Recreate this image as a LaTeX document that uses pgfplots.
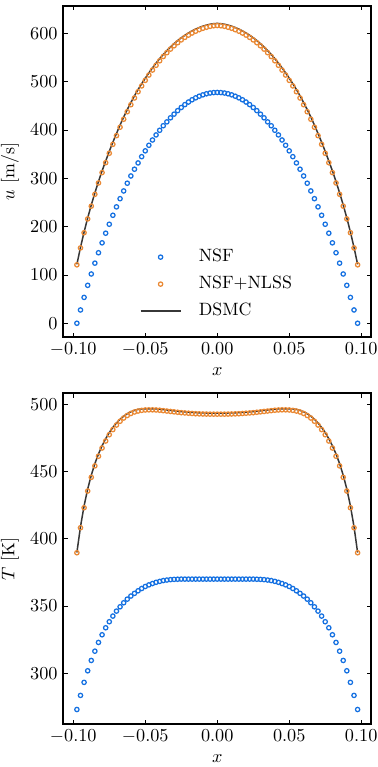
\documentclass[border=0pt]{standalone}
\usepackage{pgfplots}
\usepackage{pgfplotstable}
\pgfplotsset{compat=1.18}
\definecolor{nsfblue}{RGB}{20,112,225}
\definecolor{nlssorange}{RGB}{234,137,52}
\definecolor{dsmcgray}{RGB}{55,55,55}

\pgfplotstableread{
x nsf nlss dsmc
-0.0975 0 121 122
-0.0950 27.5 156 157
-0.0925 53.5 187.5 189
-0.0900 78.5 216 218
-0.0875 102 242.5 245
-0.0850 124.5 267 270
-0.0825 146 290.5 293.5
-0.0800 166.5 312 315.5
-0.0775 186.5 332.5 336
-0.0750 205 352 356
-0.0725 223.6 370.5 375
-0.0700 241 388.5 393
-0.0675 258 406 410.5
-0.0650 274 422.5 427
-0.0625 290 438 442.5
-0.0600 305 452.6 457
-0.0575 319 466.5 471
-0.0550 332 479.5 484
-0.0525 345 491.5 496
-0.0500 357 503 507.5
-0.0475 368.5 514 518.5
-0.0450 379.5 524.3 528.8
-0.0425 390 534.2 538.6
-0.0400 399.6 543.5 548
-0.0375 409 552.3 556.7
-0.0350 417 560.3 564.7
-0.0325 425.4 567.7 572.1
-0.0300 433.1 574.6 579
-0.0275 440.3 581 585.4
-0.0250 446.8 586.8 591.2
-0.0225 452.8 592 596.4
-0.0200 458.1 596.7 601.1
-0.0175 462.8 601 605.4
-0.0150 466.8 604.8 609.2
-0.0125 470.2 608 612.4
-0.0100 473.0 610.8 615.2
-0.0075 475.2 613 617.4
-0.0050 476.8 614.8 619.2
-0.0025 477.7 616 620.4
0.0000 478 616.5 620.9
0.0025 477.7 616 620.4
0.0050 476.8 614.8 619.2
0.0075 475.2 613 617.4
0.0100 473.0 610.8 615.2
0.0125 470.2 608 612.4
0.0150 466.8 604.8 609.2
0.0175 462.8 601 605.4
0.0200 458.1 596.7 601.1
0.0225 452.8 592 596.4
0.0250 446.8 586.8 591.2
0.0275 440.3 581 585.4
0.0300 433.1 574.6 579
0.0325 425.4 567.7 572.1
0.0350 417 560.3 564.7
0.0375 409 552.3 556.7
0.0400 399.6 543.5 548
0.0425 390 534.2 538.6
0.0450 379.5 524.3 528.8
0.0475 368.5 514 518.5
0.0500 357 503 507.5
0.0525 345 491.5 496
0.0550 332 479.5 484
0.0575 319 466.5 471
0.0600 305 452.6 457
0.0625 290 438 442.5
0.0650 274 422.5 427
0.0675 258 406 410.5
0.0700 241 388.5 393
0.0725 223.6 370.5 375
0.0750 205 352 356
0.0775 186.5 332.5 336
0.0800 166.5 312 315.5
0.0825 146 290.5 293.5
0.0850 124.5 267 270
0.0875 102 242.5 245
0.0900 78.5 216 218
0.0925 53.5 187.5 189
0.0950 27.5 156 157
0.0975 0 121 122
}\topdata

\pgfplotstableread{
x nsf nlss dsmc
-0.0975 273 389.6 389.8
-0.0950 283.5 408.2 409
-0.0925 293.2 423.1 424.5
-0.0900 301.8 435.5 437
-0.0875 309.5 445.7 447.3
-0.0850 316.4 454.2 455.9
-0.0825 322.9 461.4 463.1
-0.0800 328.6 467.5 469.2
-0.0775 333.8 472.7 474.4
-0.0750 338.3 477.4 479
-0.0725 342.5 481.2 482.8
-0.0700 346.2 484.6 486.1
-0.0675 349.4 487.4 488.9
-0.0650 352.4 489.8 491.2
-0.0625 355.1 491.7 493.0
-0.0600 357.4 493.2 494.5
-0.0575 359.4 494.3 495.5
-0.0550 361.3 495.0 496.2
-0.0525 363.0 495.5 496.6
-0.0500 364.5 495.8 496.7
-0.0475 365.7 495.9 496.7
-0.0450 366.7 495.9 496.7
-0.0425 367.6 495.8 496.6
-0.0400 368.3 495.6 496.4
-0.0375 368.9 495.3 496.1
-0.0350 369.3 495.0 495.8
-0.0325 369.6 494.7 495.5
-0.0300 369.8 494.4 495.2
-0.0275 369.9 494.1 494.9
-0.0250 370.0 493.8 494.6
-0.0225 370.0 493.6 494.4
-0.0200 370.0 493.4 494.2
-0.0175 370.0 493.2 494.0
-0.0150 370.0 493.0 493.8
-0.0125 370.0 492.9 493.7
-0.0100 370.0 492.8 493.6
-0.0075 370.0 492.75 493.55
-0.0050 370.0 492.7 493.5
-0.0025 370.0 492.7 493.5
0.0000 370.0 492.7 493.5
0.0025 370.0 492.7 493.5
0.0050 370.0 492.7 493.5
0.0075 370.0 492.75 493.55
0.0100 370.0 492.8 493.6
0.0125 370.0 492.9 493.7
0.0150 370.0 493.0 493.8
0.0175 370.0 493.2 494.0
0.0200 370.0 493.4 494.2
0.0225 370.0 493.6 494.4
0.0250 370.0 493.8 494.6
0.0275 369.9 494.1 494.9
0.0300 369.8 494.4 495.2
0.0325 369.6 494.7 495.5
0.0350 369.3 495.0 495.8
0.0375 368.9 495.3 496.1
0.0400 368.3 495.6 496.4
0.0425 367.6 495.8 496.6
0.0450 366.7 495.9 496.7
0.0475 365.7 495.9 496.7
0.0500 364.5 495.8 496.7
0.0525 363.0 495.5 496.6
0.0550 361.3 495.0 496.2
0.0575 359.4 494.3 495.5
0.0600 357.4 493.2 494.5
0.0625 355.1 491.7 493.0
0.0650 352.4 489.8 491.2
0.0675 349.4 487.4 488.9
0.0700 346.2 484.6 486.1
0.0725 342.5 481.2 482.8
0.0750 338.3 477.4 479
0.0775 333.8 472.7 474.4
0.0800 328.6 467.5 469.2
0.0825 322.9 461.4 463.1
0.0850 316.4 454.2 455.9
0.0875 309.5 445.7 447.3
0.0900 301.8 435.5 437
0.0925 293.2 423.1 424.5
0.0950 283.5 408.2 409
0.0975 273 389.6 389.8
}\botdata

\pgfplotsset{
  panel/.style={
    scale only axis, width=184.5pt, height=198.6pt,
    xmin=-0.1068, xmax=0.1068,
    axis line style={line width=1.2pt, black},
    tick style={line width=0.5pt, black},
    major tick length=2.6pt,
    tick align=inside,
    xtick={-0.1,-0.05,0,0.05,0.1},
    scaled x ticks=false,
    tick label style={font=\fontsize{10.7pt}{12.8pt}\selectfont},
    label style={font=\fontsize{10.7pt}{12.8pt}\selectfont},
    xticklabel style={/pgf/number format/.cd, fixed, fixed zerofill, precision=2},
    xlabel={$x$},
    legend image code/.code={\draw[mark repeat=2,mark phase=2,##1] plot coordinates {(0cm,0cm) (0.42cm,0cm) (0.84cm,0cm)};},
  },
  nsfstyle/.style={only marks, mark=o, mark size=1.3pt, color=nsfblue, mark options={line width=0.75pt}},
  nlssstyle/.style={only marks, mark=o, mark size=1.3pt, color=nlssorange, mark options={line width=0.75pt}},
  dsmcstyle/.style={no marks, color=dsmcgray, line width=0.9pt},
}

\begin{document}
\begin{tikzpicture}
\begin{axis}[panel, at={(0,0)}, anchor=north west,
  ymin=-28.5, ymax=657, ytick={0,100,...,600},
  ylabel={$u$ [m/s]},
  legend style={draw=none, fill=none, at={(axis cs:-0.0574,168)}, anchor=north west,
    font=\fontsize{10.7pt}{12.8pt}\selectfont,
    nodes={text height=7.4pt, text depth=2.2pt}, row sep=2.6pt,
    /tikz/every odd column/.append style={column sep=8.5pt}},
  legend cell align=left]
\addplot[nsfstyle] table[x=x, y=nsf] {\topdata};
\addlegendentry{NSF}
\addplot[nlssstyle] table[x=x, y=nlss] {\topdata};
\addlegendentry{NSF+NLSS}
\addplot[dsmcstyle] table[x=x, y=dsmc] {\topdata};
\addlegendentry{DSMC}
\end{axis}
\begin{axis}[panel, at={(0,-232.38pt)}, anchor=north west,
  ymin=262, ymax=508.2, ytick={300,350,...,500},
  ylabel={$T$ [K]}]
\addplot[nsfstyle] table[x=x, y=nsf] {\botdata};
\addplot[nlssstyle] table[x=x, y=nlss] {\botdata};
\addplot[dsmcstyle] table[x=x, y=dsmc] {\botdata};
\end{axis}
\pgfresetboundingbox
\path[use as bounding box] (-38.1pt,3.6pt) rectangle (188.7pt,-456.6pt);
\end{tikzpicture}
\end{document}
